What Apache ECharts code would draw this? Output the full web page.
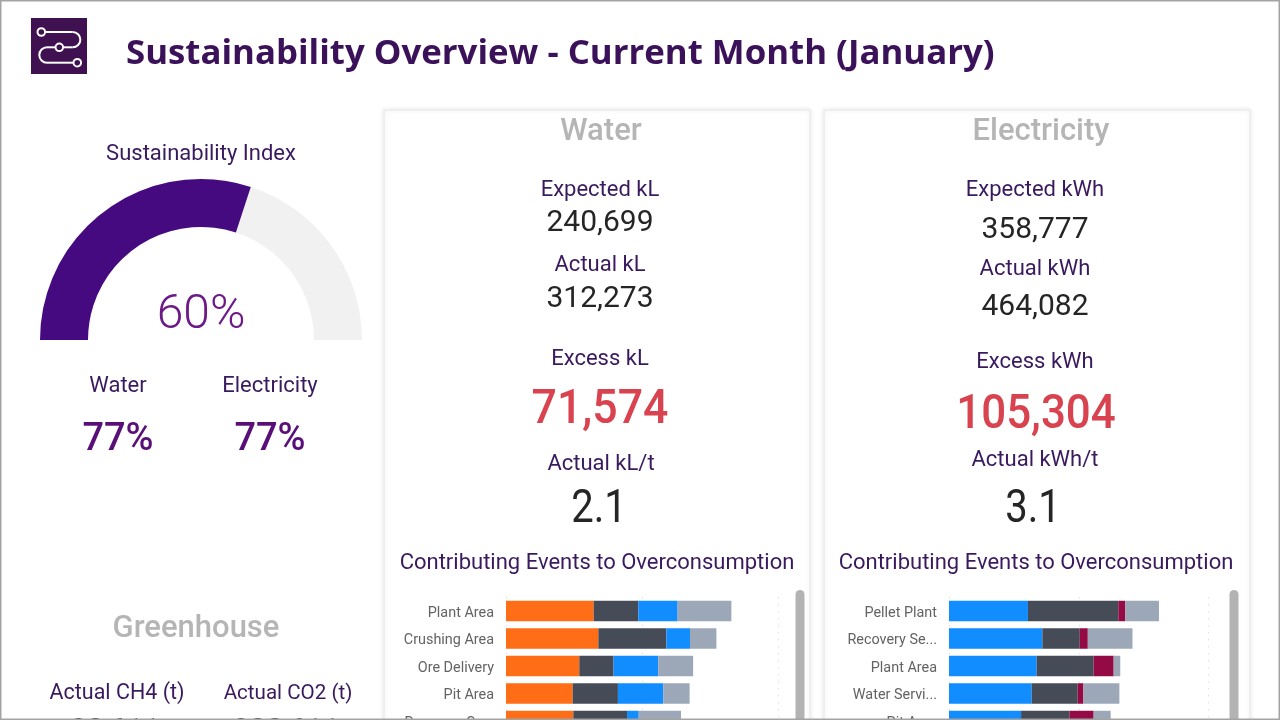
<!DOCTYPE html>
<html><head><meta charset="utf-8">
<style>html,body{margin:0;padding:0;background:#fff;overflow:hidden}#c{width:1280px;height:720px}</style>
<script src="https://cdn.jsdelivr.net/npm/echarts@6/dist/echarts.min.js"></script>
</head><body><div id="c"></div>
<script>
var indexValue = 60;
var waterCats = ['Plant Area','Crushing Area','Ore Delivery','Pit Area','Recovery Se...'];
var waterA = [6.45,6.79,5.39,4.90,4.95];
var waterB = [3.28,5.00,2.52,3.33,3.95];
var waterC = [2.89,1.74,3.28,3.33,0.86];
var waterD = [3.95,1.94,2.57,1.94,3.11];
var elecCats = ['Pellet Plant','Recovery Se...','Plant Area','Water Servi...','Pit Area'];
var elecA = [6.08,7.19,6.75,6.37,5.55];
var elecB = [6.96,2.88,4.39,3.54,3.72];
var elecC = [0.54,0.62,1.54,0.44,1.87];
var elecD = [2.59,3.44,0.51,2.77,1.31];

var PURPLE='#3a1a5e', GREY='#b5b5b5', DARK='#252525', RED='#d9434f', VIOLET='#5a0f78';
var FONT='Roboto';
var labels = [
 ['Sustainability Index',201,154,22,PURPLE,400,1],
 ['Water',118,386,22,PURPLE,400,1],
 ['Electricity',270,386,22,PURPLE,400,1],
 ['77%',118,440,38,VIOLET,500,1],
 ['77%',270,440,38,VIOLET,500,1],
 ['Greenhouse',196,629,31,GREY,500,1],
 ['Actual CH4 (t)',117,694,21.5,PURPLE,400,1],
 ['Actual CO2 (t)',288,694,21,PURPLE,400,0.98],
 ['80,611',115,731.5,30,DARK,400,1],
 ['800,611',286,731.5,30,DARK,400,1],
 ['Water',601,132,31,GREY,500,1],
 ['Expected kL',600,190,22,PURPLE,400,1],
 ['240,699',600,223,30,DARK,400,1],
 ['Actual kL',600,265,22,PURPLE,400,1],
 ['312,273',600,299,30,DARK,400,1],
 ['Excess kL',600,359,22,PURPLE,400,1],
 ['71,574',600,411,48,RED,500,0.93],
 ['Actual kL/t',601,464,22,PURPLE,400,1],
 ['2.1',599,510,46,DARK,400,0.87],
 ['Contributing Events to Overconsumption',597,563,22,PURPLE,400,1],
 ['Electricity',1041,132,31,GREY,500,1],
 ['Expected kWh',1035,190,22,PURPLE,400,1],
 ['358,777',1035,230,30,DARK,400,1],
 ['Actual kWh',1035,269,22,PURPLE,400,1],
 ['464,082',1035,307,30,DARK,400,1],
 ['Excess kWh',1035,362,22,PURPLE,400,1],
 ['105,304',1036,416,48,RED,500,0.915],
 ['Actual kWh/t',1035,460,22,PURPLE,400,1],
 ['3.1',1033,510,46,DARK,400,0.87],
 ['Contributing Events to Overconsumption',1036,563,22,PURPLE,400,1]
];

var g = [];
function panel(x,w){ g.push({type:'rect',z:0,shape:{x:x,y:110,width:w,height:640},style:{fill:'#fff',stroke:'#efefef',lineWidth:2,shadowBlur:5,shadowColor:'rgba(0,0,0,0.07)'}}); }
panel(384,426); panel(824,426);
g.push({type:'rect',z:1,shape:{x:31,y:18,width:56,height:56},style:{fill:'#3f1150'}});
var ls={stroke:'#fff',lineWidth:2,fill:'none'};
[[45.5,32,72.7,32],[72.7,47.3,63.5,47.3],[55,47.3,47,47.3],[47,62.7,73,62.7]].forEach(function(p){g.push({type:'line',z:2,shape:{x1:p[0],y1:p[1],x2:p[2],y2:p[3]},style:ls});});
g.push({type:'arc',z:2,shape:{cx:72.7,cy:39.65,r:7.65,startAngle:-Math.PI/2,endAngle:Math.PI/2,clockwise:true},style:ls});
g.push({type:'arc',z:2,shape:{cx:47,cy:55,r:7.7,startAngle:Math.PI/2,endAngle:Math.PI*1.5,clockwise:true},style:ls});
[[41.3,32],[59.3,47.3],[77.3,62.7]].forEach(function(p){g.push({type:'circle',z:2,shape:{cx:p[0],cy:p[1],r:3.8},style:{fill:'none',stroke:'#fff',lineWidth:2}});});
g.push({type:'text',z:5,style:{text:'Sustainability Overview - Current Month (January)',x:126,y:54,fill:'#3b1259',font:'700 34.8px "Open Sans"',textAlign:'left',textVerticalAlign:'middle'}});
labels.forEach(function(l){ g.push({type:'text',z:5,x:l[1],y:l[2],scaleX:l[6],style:{text:l[0],x:0,y:0,fill:l[4],font:l[5]+' '+l[3]+'px '+FONT,textAlign:'center',textVerticalAlign:'middle'}}); });
g.push({type:'rect',z:6,shape:{x:795.5,y:590,width:9,height:140,r:4.5},style:{fill:'#b3b3b3'}});
g.push({type:'rect',z:6,shape:{x:1229.5,y:590,width:9,height:140,r:4.5},style:{fill:'#b3b3b3'}});
g.push({type:'rect',z:20,shape:{x:0.75,y:0.75,width:1278.5,height:718.5},style:{fill:'none',stroke:'#a3a3a3',lineWidth:1.5}});

var colorsW=['#ff6d16','#454c57','#118dff','#9ca8b8'];
var colorsE=['#118dff','#454c57','#930a45','#9ca8b8'];
var grids=[{left:506,top:597.25,width:272,height:137.5,outerBoundsMode:'none'},{left:949,top:597.25,width:259.7,height:137.5,outerBoundsMode:'none'}];
function axes(i,cats){
 return {x:{type:'value',gridIndex:i,min:0,max:20,interval:10,axisLabel:{show:false},axisLine:{show:false},axisTick:{show:false},
  splitLine:{show:true,lineStyle:{color:'#d4d4d4',type:[1,6],width:1}}},
 y:{type:'category',gridIndex:i,data:cats,inverse:true,axisLine:{show:false},axisTick:{show:false},
  axisLabel:{color:'#636363',fontFamily:FONT,fontSize:14.4,margin:12,interval:0,verticalAlign:'top',lineHeight:4}}};
}
var a0=axes(0,waterCats),a1=axes(1,elecCats);
function bars(i,list,colors){return list.map(function(d,k){return {type:'bar',xAxisIndex:i,yAxisIndex:i,stack:'s'+i,data:d,barWidth:20.5,silent:true,animation:false,itemStyle:{color:colors[k]}};});}
var series=[{type:'gauge',center:[201,340],radius:161,startAngle:180,endAngle:0,min:0,max:100,animation:false,
 pointer:{show:false},axisTick:{show:false},splitLine:{show:false},axisLabel:{show:false},title:{show:false},
 axisLine:{roundCap:false,lineStyle:{width:48,color:[[1,'#f2f1f1']]}},
 progress:{show:true,width:48,roundCap:false,itemStyle:{color:'#460a80'}},
 detail:{formatter:'{value}%',offsetCenter:[0,-24],color:'#6b1a87',fontFamily:FONT,fontWeight:300,fontSize:48},
 data:[{value:indexValue}]}]
 .concat(bars(0,[waterA,waterB,waterC,waterD],colorsW))
 .concat(bars(1,[elecA,elecB,elecC,elecD],colorsE));
var chart=echarts.init(document.getElementById('c'),null,{renderer:'canvas'});
chart.setOption({animation:false,backgroundColor:'#fff',graphic:g,grid:grids,xAxis:[a0.x,a1.x],yAxis:[a0.y,a1.y],series:series});
</script></body></html>
